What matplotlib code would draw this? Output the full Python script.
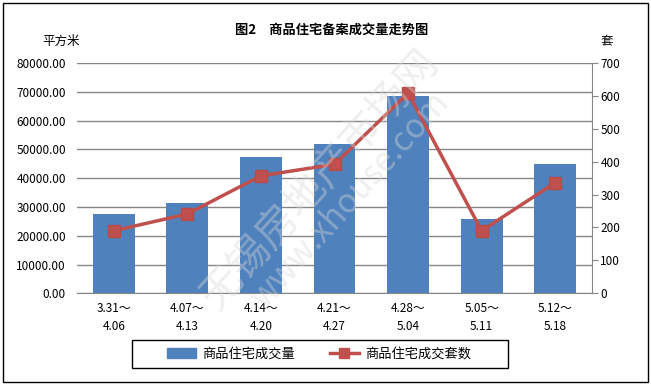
import numpy as np
import matplotlib.pyplot as plt
from matplotlib.patches import Rectangle
from matplotlib.lines import Line2D

plt.rcParams['font.family'] = ['Noto Sans CJK SC', 'DejaVu Sans']

# 数据
semanas = ["3.31～\n4.06", "4.07～\n4.13", "4.14～\n4.20", "4.21～\n4.27",
           "4.28～\n5.04", "5.05～\n5.11", "5.12～\n5.18"]
area = [27530, 31350, 47330, 51940, 68610, 25900, 44900]   # 平方米
sets = [190, 241, 357, 392, 608, 190, 336]                 # 套

azul = "#4F81BD"
rojo = "#C0504D"
gris = "#868686"

fig = plt.figure(figsize=(6.51, 3.85), dpi=100)
ax = fig.add_axes([77/651, 1-293.3/385, (592-77)/651, (293.3-62.9)/385])
ax2 = ax.twinx()

x = np.arange(len(semanas))
ax.bar(x, area, width=0.57, color=azul, zorder=2)
ax.set_xlim(-0.5, len(semanas)-0.5)
ax.set_ylim(0, 80000)
ax.set_yticks(np.arange(0, 80001, 10000))
ax.set_yticklabels([f"{v:.2f}" for v in np.arange(0, 80001, 10000)], fontsize=8.5)
ax.set_xticks(x)
ax.set_xticklabels(semanas, fontsize=8.5, linespacing=1.5)
ax.tick_params(axis='x', length=0, pad=6)
ax.tick_params(axis='y', length=0, pad=8)
ax.grid(axis='y', color=gris, linewidth=1, zorder=0)
ax.set_axisbelow(True)
for s in ['top', 'left', 'right']:
    ax.spines[s].set_visible(False)
ax.spines['bottom'].set_color(gris)

ax2.plot(x, sets, color=rojo, linewidth=2.5, marker='s', markersize=8,
         markerfacecolor=rojo, markeredgecolor="#B84A47", zorder=3)
ax2.set_ylim(0, 700)
ax2.set_yticks(np.arange(0, 701, 100))
ax2.tick_params(axis='y', labelsize=8.5, length=4, color=gris, pad=2)
for s in ['top', 'left', 'bottom']:
    ax2.spines[s].set_visible(False)
ax2.spines['right'].set_color(gris)

# textos
fig.text(332/651, 1-29.5/385, "图2　商品住宅备案成交量走势图", ha='center', va='center',
         fontsize=9.5, fontweight='bold')
fig.text(61.5/651, 1-41/385, "平方米", ha='center', va='center', fontsize=9)
fig.text(607/651, 1-41/385, "套", ha='center', va='center', fontsize=9)

# marca de agua
fig.text(320/651, 1-180/385, "无锡房地产市场网", rotation=48, ha='center', va='center',
         fontsize=30, color='#d8d8d8', alpha=0.4, zorder=5)
fig.text(350/651, 1-200/385, "www.xhouse.com", rotation=48, ha='center', va='center',
         fontsize=24, color='#d8d8d8', alpha=0.4, zorder=5)

# leyenda
handles = [Rectangle((0, 0), 1, 1, color=azul),
           Line2D([], [], color=rojo, linewidth=2.5, marker='s', markersize=7)]
leg = fig.legend(handles, ["商品住宅成交量", "商品住宅成交套数"], loc='center',
                 bbox_to_anchor=(319/651, 1-354/385), ncol=2, fontsize=9.5,
                 frameon=False, handlelength=2.2, columnspacing=2.6,
                 handletextpad=0.5)
fig.patches.append(Rectangle((132/651, 1-368/385), 376/651, 28/385,
                             transform=fig.transFigure, fill=False,
                             edgecolor='black', linewidth=1))

# borde exterior
fig.patches.append(Rectangle((3/651, 3/385), 645/651, 379/385, transform=fig.transFigure,
                             fill=False, edgecolor='black', linewidth=1))

fig.savefig("out.png", dpi=100)
